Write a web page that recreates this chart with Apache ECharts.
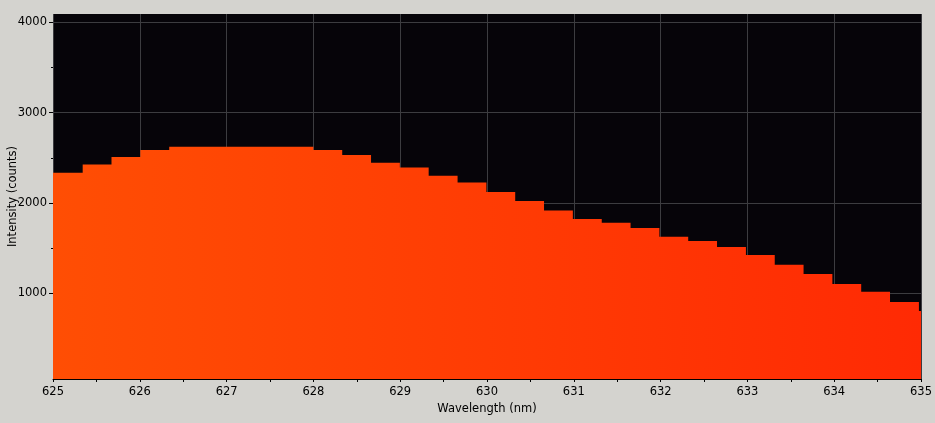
<!DOCTYPE html>
<html><head><meta charset="utf-8">
<script src="https://cdn.jsdelivr.net/npm/echarts@6/dist/echarts.min.js"></script>
<style>html,body{margin:0;padding:0;background:#d4d3cf;}#c{width:935px;height:423px;}</style>
</head><body><div id="c"></div>
<script>
// Left edges of each spectrometer bin (nm); final entry closes the last bin at 635
const wavelengths = [625.000, 625.342, 625.674, 626.006, 626.339, 626.671, 627.003, 627.335, 627.667, 628.000,
  628.332, 628.664, 628.996, 629.328, 629.661, 629.993, 630.325, 630.657, 630.989, 631.322,
  631.654, 631.986, 632.318, 632.650, 632.983, 633.315, 633.647, 633.979, 634.311, 634.643,
  634.976, 635.000];
const intensity = [2335, 2424, 2509, 2587, 2623, 2623, 2623, 2623, 2623, 2587,
  2531, 2446, 2391, 2302, 2225, 2122, 2022, 1915, 1823, 1779,
  1723, 1624, 1579, 1513, 1424, 1314, 1214, 1103, 1015, 904,
  804, 804];
const yMajorTicks = [1000, 2000, 3000, 4000];
const yMinorTicks = [1500, 2500, 3500];

const font = 'DejaVu Sans';
const fs = 11.5;
const chart = echarts.init(document.getElementById('c'));
chart.setOption({
  backgroundColor: '#d4d3cf',
  animation: false,
  grid: { left: 53, right: 14, top: 14, bottom: 44, outerBoundsMode: 'none', containLabel: false,
    show: true, backgroundColor: '#060409', borderWidth: 0 },
  xAxis: {
    type: 'value', min: 625, max: 635, interval: 1,
    name: 'Wavelength (nm)', nameLocation: 'middle', nameGap: 24, nameMoveOverlap: false,
    nameTextStyle: { color: '#000', fontFamily: font, fontSize: fs },
    axisLine: { show: true, lineStyle: { color: '#000', width: 1 } },
    axisTick: { show: true, length: 3, lineStyle: { color: '#000' } },
    minorTick: { show: true, splitNumber: 2, length: 3, lineStyle: { color: '#000' } },
    axisLabel: { color: '#000', fontFamily: font, fontSize: fs, margin: 7, formatter: v => String(v) },
    splitLine: { show: true, lineStyle: { color: '#3c3c40', width: 1 } }
  },
  yAxis: [{
    type: 'value', min: 50, max: 4092,
    name: 'Intensity (counts)', nameLocation: 'middle', nameGap: 34, nameMoveOverlap: false,
    nameTextStyle: { color: '#000', fontFamily: font, fontSize: fs },
    axisLine: { show: false },
    axisTick: { show: true, length: 4, customValues: yMajorTicks, lineStyle: { color: '#000' } },
    axisLabel: { color: '#000', fontFamily: font, fontSize: fs, margin: 6, customValues: yMajorTicks, formatter: v => String(v) },
    splitLine: { show: true, lineStyle: { color: '#3c3c40', width: 1 } }
  }, {
    type: 'value', min: 50, max: 4092, position: 'left',
    axisLine: { show: false },
    axisTick: { show: true, length: 2, customValues: yMinorTicks, lineStyle: { color: '#000' } },
    axisLabel: { show: false },
    splitLine: { show: false }
  }],
  series: [{
    type: 'line', step: 'end', showSymbol: false,
    data: wavelengths.map((w, i) => [w, intensity[i]]),
    lineStyle: { width: 0 },
    areaStyle: {
      opacity: 1, origin: 'start',
      color: new echarts.graphic.LinearGradient(0, 0, 1, 0, [
        { offset: 0, color: '#ff4e04' }, { offset: 1, color: '#ff2a04' }
      ])
    }
  }]
});
</script></body></html>
